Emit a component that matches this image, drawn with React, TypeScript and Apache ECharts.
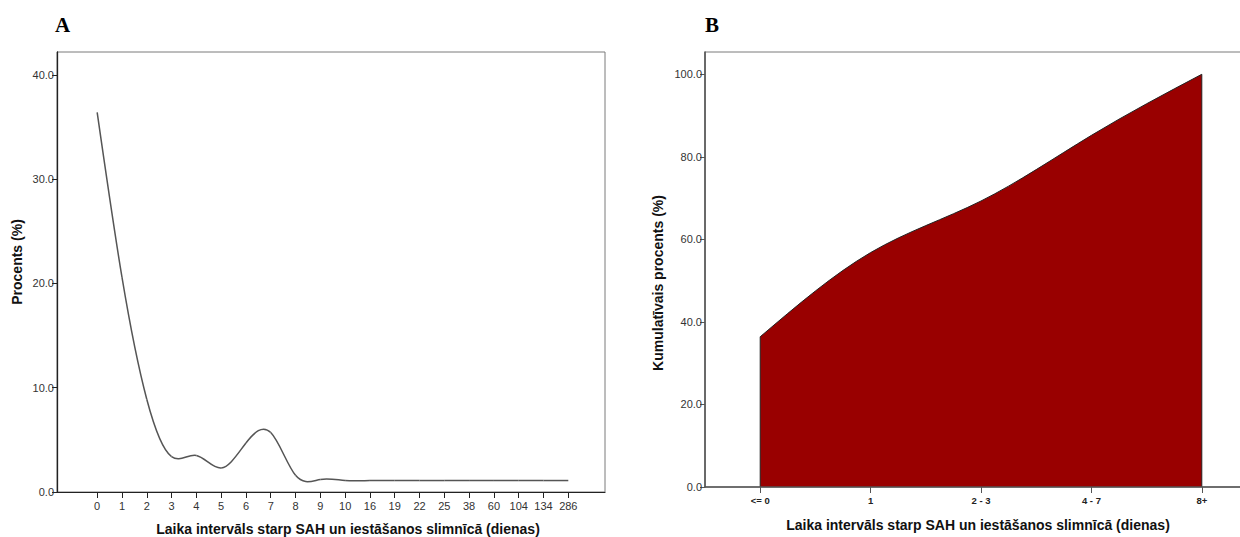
import React, { useEffect, useRef } from "react";
import * as echarts from "echarts";

const categoriesA = ["0", "1", "2", "3", "4", "5", "6", "7", "8", "9", "10", "16", "19", "22", "25", "38", "60", "104", "134", "286"];
const percentA = [36.4, 20.6, 8.9, 3.4, 3.5, 2.3, 4.7, 5.7, 1.6, 1.2, 1.1, 1.1, 1.1, 1.1, 1.1, 1.1, 1.1, 1.1, 1.1, 1.1];
const yTicksA = [0, 10, 20, 30, 40];

const categoriesB = ["<= 0", "1", "2 - 3", "4 - 7", "8+"];
const cumulativeB = [36.4, 56.8, 69.3, 85.2, 100];
const yTicksB = [0, 20, 40, 60, 80, 100];

const FONT = "'Liberation Sans', Arial, sans-serif";

// Natural cubic spline second derivatives (uniform spacing), used only to render smooth curves
function splineSecondDerivs(y: number[]): number[] {
  const n = y.length;
  const M = new Array(n).fill(0);
  if (n < 3) return M;
  const a: number[] = [], b: number[] = [], c: number[] = [], d: number[] = [];
  for (let i = 1; i < n - 1; i++) {
    a.push(1); b.push(4); c.push(1);
    d.push(6 * (y[i + 1] - 2 * y[i] + y[i - 1]));
  }
  const m = d.length;
  for (let i = 1; i < m; i++) {
    const w = a[i] / b[i - 1];
    b[i] -= w * c[i - 1];
    d[i] -= w * d[i - 1];
  }
  const sol = new Array(m).fill(0);
  sol[m - 1] = d[m - 1] / b[m - 1];
  for (let i = m - 2; i >= 0; i--) sol[i] = (d[i] - c[i] * sol[i + 1]) / b[i];
  for (let i = 0; i < m; i++) M[i + 1] = sol[i];
  return M;
}

function segmentControls(y: number[], M: number[], i: number) {
  const y0 = y[i], y1 = y[i + 1];
  const sL = (y1 - y0) - (2 * M[i] + M[i + 1]) / 6;
  const sR = (y1 - y0) + (M[i] + 2 * M[i + 1]) / 6;
  return { c1: [i + 1 / 3, y0 + sL / 3], c2: [i + 2 / 3, y1 - sR / 3] };
}

export default function App() {
  const ref = useRef<HTMLDivElement>(null);
  useEffect(() => {
    if (!ref.current) return;
    const chart = echarts.init(ref.current, undefined, { renderer: "svg" });
    const idxA = categoriesA.map((_, i) => i);
    const idxB = categoriesB.map((_, i) => i);
    const MA = splineSecondDerivs(percentA);
    const MB = splineSecondDerivs(cumulativeB);
    const f = (p: number[]) => `${p[0].toFixed(2)} ${p[1].toFixed(2)}`;
    const option: any = {
      animation: false,
      textStyle: { fontFamily: FONT },
      grid: [
        { left: 57, top: 52, width: 548, height: 440, show: true, borderColor: "#7a7a7a", borderWidth: 1, backgroundColor: "transparent", outerBoundsMode: "none", containLabel: false },
        { left: 705, top: 52, width: 552, height: 435, show: true, borderColor: "#7a7a7a", borderWidth: 1, backgroundColor: "transparent", outerBoundsMode: "none", containLabel: false },
      ],
      xAxis: [
        {
          gridIndex: 0, type: "value", min: -1.62, max: 20.48, z: 5,
          axisLine: { show: true, onZero: false, lineStyle: { color: "#222", width: 1.2 } },
          axisTick: { show: true, customValues: idxA, length: 6, lineStyle: { color: "#222" } },
          axisLabel: { customValues: idxA, formatter: (v: number) => categoriesA[Math.round(v)], fontSize: 11, color: "#333", margin: 8, fontFamily: FONT },
          splitLine: { show: false },
        },
        {
          gridIndex: 1, type: "value", min: -0.5, max: 4.5, z: 5,
          axisLine: { show: true, onZero: false, lineStyle: { color: "#555", width: 1.5 } },
          axisTick: { show: true, customValues: idxB, length: 6, lineStyle: { color: "#555" } },
          axisLabel: { customValues: idxB, formatter: (v: number) => categoriesB[Math.round(v)], fontSize: 9.5, fontWeight: "bold", color: "#222", margin: 8, fontFamily: FONT },
          splitLine: { show: false },
        },
      ],
      yAxis: [
        {
          gridIndex: 0, type: "value", min: 0, max: 42.2, z: 5,
          axisLine: { show: true, onZero: false, lineStyle: { color: "#222", width: 1.3 } },
          axisTick: { show: true, customValues: yTicksA, length: 5, lineStyle: { color: "#222" } },
          axisLabel: { customValues: yTicksA, formatter: (v: number) => v.toFixed(1), fontSize: 11, color: "#333", margin: 3, fontFamily: FONT },
          splitLine: { show: false },
        },
        {
          gridIndex: 1, type: "value", min: 0, max: 105.4, z: 5,
          axisLine: { show: true, onZero: false, lineStyle: { color: "#555", width: 1.6 } },
          axisTick: { show: true, customValues: yTicksB, length: 5, lineStyle: { color: "#555" } },
          axisLabel: { customValues: yTicksB, formatter: (v: number) => v.toFixed(1), fontSize: 11, color: "#333", margin: 3, fontFamily: FONT },
          splitLine: { show: false },
        },
      ],
      series: [
        {
          type: "custom", xAxisIndex: 0, yAxisIndex: 0, coordinateSystem: "cartesian2d",
          data: percentA.map((v, i) => [i, v]),
          encode: { x: 0, y: 1 },
          renderItem: (params: any, api: any) => {
            const i = params.dataIndex;
            if (i >= percentA.length - 1) return { type: "group", children: [] };
            const { c1, c2 } = segmentControls(percentA, MA, i);
            const p0 = api.coord([i, percentA[i]]);
            const p3 = api.coord([i + 1, percentA[i + 1]]);
            const q1 = api.coord(c1);
            const q2 = api.coord(c2);
            return {
              type: "bezierCurve",
              shape: { x1: p0[0], y1: p0[1], x2: p3[0], y2: p3[1], cpx1: q1[0], cpy1: q1[1], cpx2: q2[0], cpy2: q2[1] },
              style: { stroke: "#555", lineWidth: 1.5, fill: null },
            };
          },
        },
        {
          type: "custom", xAxisIndex: 1, yAxisIndex: 1, coordinateSystem: "cartesian2d",
          data: cumulativeB.map((v, i) => [i, v]),
          encode: { x: 0, y: 1 },
          renderItem: (params: any, api: any) => {
            if (params.dataIndex !== 0) return { type: "group", children: [] };
            const n = cumulativeB.length;
            let curve = `M ${f(api.coord([0, cumulativeB[0]]))}`;
            for (let i = 0; i < n - 1; i++) {
              const { c1, c2 } = segmentControls(cumulativeB, MB, i);
              curve += ` C ${f(api.coord(c1))} ${f(api.coord(c2))} ${f(api.coord([i + 1, cumulativeB[i + 1]]))}`;
            }
            const base0 = api.coord([0, 0]);
            const baseN = api.coord([n - 1, 0]);
            const fillPath = `${curve} L ${f(baseN)} L ${f(base0)} Z`;
            const strokePath = `M ${f(base0)} L ${curve.slice(2)} L ${f(baseN)}`;
            return {
              type: "group",
              children: [
                { type: "path", shape: { pathData: fillPath }, style: { fill: "#990000", stroke: null } },
                { type: "path", shape: { pathData: strokePath }, style: { fill: null, stroke: "#222", lineWidth: 1 } },
              ],
            };
          },
        },
      ],
      graphic: [
        { type: "text", left: 55, top: 14, style: { text: "A", font: "bold 21px 'Liberation Serif', 'Times New Roman', serif", fill: "#000" } },
        { type: "text", left: 705, top: 14, style: { text: "B", font: "bold 21px 'Liberation Serif', 'Times New Roman', serif", fill: "#000" } },
        { type: "text", x: 17, y: 262, rotation: Math.PI / 2, style: { text: "Procents (%)", font: `bold 14px ${FONT}`, fill: "#111", align: "center", verticalAlign: "middle" } },
        { type: "text", x: 658, y: 283, rotation: Math.PI / 2, style: { text: "Kumulatīvais procents (%)", font: `bold 14px ${FONT}`, fill: "#111", align: "center", verticalAlign: "middle" } },
        { type: "text", x: 348, y: 529, style: { text: "Laika intervāls starp SAH un iestāšanos slimnīcā (dienas)", font: `bold 14px ${FONT}`, fill: "#111", align: "center", verticalAlign: "middle" } },
        { type: "text", x: 978, y: 525, style: { text: "Laika intervāls starp SAH un iestāšanos slimnīcā (dienas)", font: `bold 14px ${FONT}`, fill: "#111", align: "center", verticalAlign: "middle" } },
      ],
    };
    chart.setOption(option);
    return () => chart.dispose();
  }, []);
  return <div ref={ref} style={{ width: 1240, height: 537, position: "absolute", left: 0, top: 0 }} />;
}
